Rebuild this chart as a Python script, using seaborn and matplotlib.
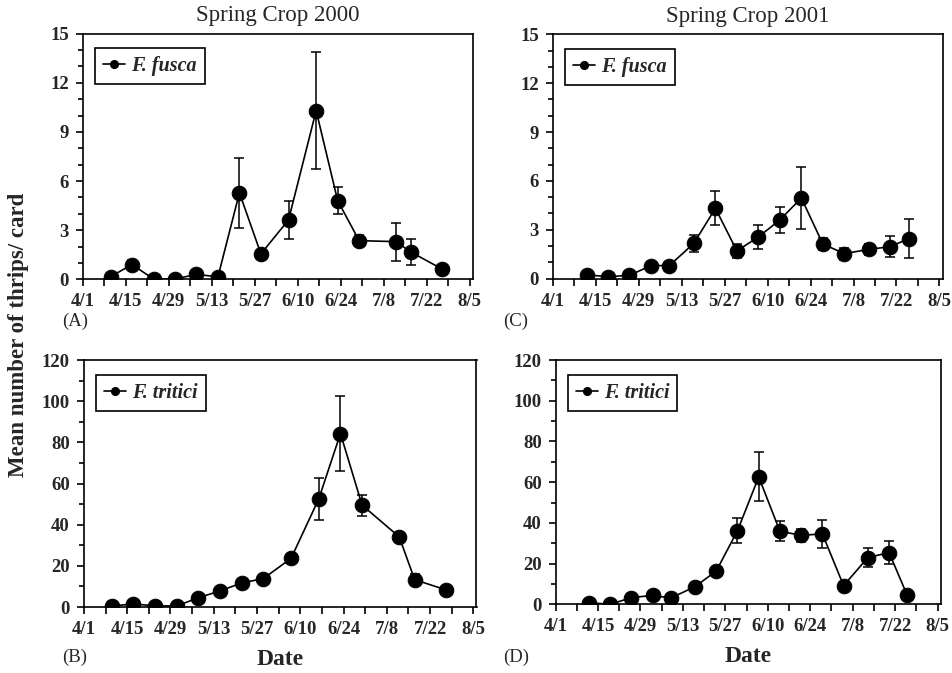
import pandas as pd
import matplotlib
matplotlib.use("Agg")
import matplotlib.pyplot as plt
import seaborn as sns

# 2000 sampling dates and means (F. fusca / F. tritici), with standard errors
dates_2000 = ["2000-04-10", "2000-04-17", "2000-04-24", "2000-05-01", "2000-05-08",
              "2000-05-15", "2000-05-22", "2000-05-29", "2000-06-07", "2000-06-16",
              "2000-06-23", "2000-06-30", "2000-07-12", "2000-07-17", "2000-07-27"]
fusca_2000 = [0.16, 0.9, 0.02, 0.02, 0.3, 0.15, 5.28, 1.55, 3.63, 10.3, 4.81, 2.36, 2.3, 1.65, 0.63]
fusca_2000_se = [0, 0.3, 0, 0, 0, 0, 2.15, 0, 1.17, 3.57, 0.82, 0.35, 1.16, 0.8, 0]
tritici_2000 = [0.5, 1.5, 0.6, 0.5, 4.5, 7.8, 11.7, 13.8, 23.6, 52.6, 84.3, 49.5, 34.1, 13.3, 8.4]
tritici_2000_se = [0, 0, 0, 0, 0, 0, 0, 0, 1.5, 10.2, 18.1, 5.1, 1.5, 2.6, 0]

# 2001 sampling dates
dates_2001 = ["2001-04-12", "2001-04-19", "2001-04-26", "2001-05-03", "2001-05-09",
              "2001-05-17", "2001-05-24", "2001-05-31", "2001-06-07", "2001-06-14",
              "2001-06-21", "2001-06-28", "2001-07-05", "2001-07-13", "2001-07-20",
              "2001-07-26"]
fusca_2001 = [0.23, 0.12, 0.2, 0.8, 0.8, 2.17, 4.32, 1.7, 2.56, 3.6, 4.95, 2.13, 1.53, 1.8, 1.96, 2.46]
fusca_2001_se = [0, 0, 0, 0, 0, 0.53, 1.05, 0.42, 0.75, 0.8, 1.93, 0.36, 0.37, 0.32, 0.66, 1.22]
tritici_2001 = [0.8, 0.0, 3.3, 4.4, 3.1, 8.7, 16.4, 36.2, 62.6, 35.9, 33.9, 34.6, 9.2, 23.0, 25.4, 4.4]
tritici_2001_se = [0, 0, 0, 0, 0, 0, 0, 6.2, 12.0, 4.8, 3.2, 6.9, 1.9, 4.7, 5.6, 0]

sns.set_style("ticks")
plt.rcParams["font.family"] = ["Liberation Serif", "DejaVu Serif"]
plt.rcParams["font.weight"] = "bold"

fig = plt.figure(figsize=(9.53, 6.73), dpi=100)

panels = [
    # (position, dates, means, se, species, ymax, major, minor, tag, tag_xy, title)
    ([0.087, 0.585, 0.409, 0.365], dates_2000, fusca_2000, fusca_2000_se, "F. fusca", 15, 3, 1,
     "(A)", (0.065, 0.522), "Spring Crop 2000"),
    ([0.580, 0.586, 0.409, 0.363], dates_2001, fusca_2001, fusca_2001_se, "F. fusca", 15, 3, 1,
     "(C)", (0.528, 0.522), "Spring Crop 2001"),
    ([0.088, 0.098, 0.412, 0.367], dates_2000, tritici_2000, tritici_2000_se, "F. tritici", 120, 20, 10,
     "(B)", (0.065, 0.024), None),
    ([0.583, 0.102, 0.404, 0.363], dates_2001, tritici_2001, tritici_2001_se, "F. tritici", 120, 20, 10,
     "(D)", (0.528, 0.024), None),
]

for pos, dates, means, se, species, ymax, major, minor, tag, tag_xy, title in panels:
    ax = fig.add_axes(pos)
    df = pd.DataFrame({"date": pd.to_datetime(dates), "mean": means, "se": se})
    year = df["date"].dt.year.iloc[0]

    ax.errorbar(df["date"], df["mean"], yerr=df["se"], fmt="none", ecolor="black",
                elinewidth=1.1, capsize=3.5, capthick=1.1, zorder=1)
    sns.lineplot(data=df, x="date", y="mean", ax=ax, color="black", lw=1.2,
                 marker="o", markersize=10.5, markeredgecolor="black", label=species, zorder=2)

    start = pd.Timestamp(f"{year}-04-01")
    end = pd.Timestamp(f"{year}-08-05")
    ax.set_xlim(start, end + pd.Timedelta(days=1))
    ticks = pd.date_range(start, end, freq="14D")
    ax.set_xticks(ticks)
    ax.set_xticklabels([f"{d.month}/{d.day}" for d in ticks])
    ax.set_xticks(pd.date_range(start, end, freq="7D"), minor=True)

    ax.set_ylim(0, ymax)
    ax.set_yticks(range(0, ymax + 1, major))
    ax.set_yticks(range(0, ymax + 1, minor), minor=True)

    for s in ax.spines.values():
        s.set_linewidth(1.2)
        s.set_color("black")
    ax.tick_params(which="major", direction="out", length=5, width=1.2,
                   labelsize=13.5, color="black", pad=5)
    ax.tick_params(which="minor", direction="out", length=3.5, width=1.2, color="black")
    ax.tick_params(axis="x", which="minor", length=5)
    for lab in ax.get_xticklabels() + ax.get_yticklabels():
        lab.set_fontweight("bold")

    ax.set_ylabel("")
    if title:
        ax.set_xlabel("")
        ax.set_title(title, fontsize=16.5, fontweight="normal", pad=9)
    else:
        ax.set_xlabel("Date", fontsize=17, fontweight="bold", labelpad=8)

    leg = ax.legend(loc="upper left", bbox_to_anchor=(0.031, 0.94), borderaxespad=0,
                    markerscale=0.55, handlelength=1.1, handletextpad=0.3, borderpad=0.4,
                    fancybox=False, framealpha=1, edgecolor="black",
                    prop={"family": "Liberation Serif", "style": "italic", "weight": "bold", "size": 14.5})
    leg.get_frame().set_linewidth(1.2)

    fig.text(tag_xy[0], tag_xy[1], tag, fontsize=13.5, fontweight="normal", ha="left", va="center")

fig.text(0.019, 0.502, "Mean number of thrips/ card", rotation=90, ha="center", va="center",
         fontsize=16.5, fontweight="bold")

fig.savefig("out.png", dpi=100)
